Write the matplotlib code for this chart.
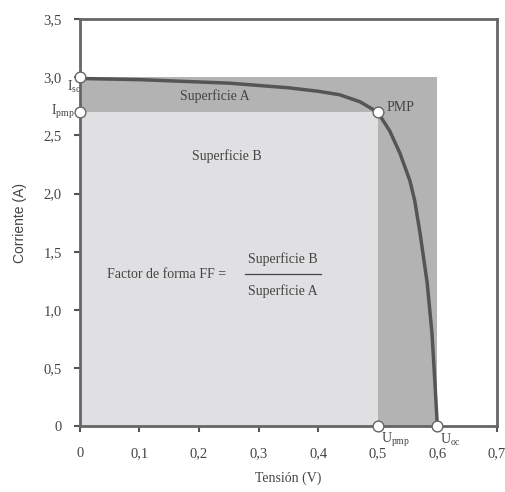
import matplotlib.pyplot as plt
from matplotlib.patches import Rectangle

# I-V curve of a solar cell
tension = [0, 0.1, 0.2, 0.25, 0.3, 0.35, 0.4, 0.436, 0.47, 0.5, 0.52,
           0.537, 0.554, 0.562, 0.571, 0.583, 0.591, 0.596, 0.6]
corriente = [2.99, 2.98, 2.96, 2.95, 2.93, 2.91, 2.88, 2.85, 2.79, 2.70, 2.54,
             2.35, 2.11, 1.94, 1.66, 1.23, 0.80, 0.37, 0.0]

Isc = 3.0
Uoc = 0.6
Ipmp = 2.7
Upmp = 0.5

xticks = [0, 0.1, 0.2, 0.3, 0.4, 0.5, 0.6, 0.7]
xtick_labels = ["0", "0,1", "0,2", "0,3", "0,4", "0,5", "0,6", "0,7"]
yticks = [0, 0.5, 1.0, 1.5, 2.0, 2.5, 3.0, 3.5]
ytick_labels = ["0", "0,5", "1,0", "1,5", "2,0", "2,5", "3,0", "3,5"]

plt.rcParams['font.family'] = 'Liberation Serif'
plt.rcParams['mathtext.fontset'] = 'custom'
plt.rcParams['mathtext.rm'] = 'Liberation Serif'
plt.rcParams['mathtext.it'] = 'Liberation Serif:italic'

txt = '#444444'
fig = plt.figure(figsize=(5.05, 4.92), dpi=100)
ax = fig.add_axes([0.158, 0.134, 0.826, 0.827])

# Superficie A (Isc x Uoc) and Superficie B (Ipmp x Upmp)
ax.add_patch(Rectangle((0, 0), Uoc, Isc, facecolor='#b3b3b3', edgecolor='none', zorder=1))
ax.add_patch(Rectangle((0, 0), Upmp, Ipmp, facecolor='#e0e0e2', edgecolor='none', zorder=2))

ax.plot(tension, corriente, color='#555555', lw=2.5, zorder=3,
        solid_joinstyle='round', solid_capstyle='butt')

px = [0, 0, Upmp, Upmp, Uoc]
py = [Isc, Ipmp, Ipmp, 0, 0]
ax.scatter(px, py, s=60, facecolor='white', edgecolor='#666666', linewidth=1.0,
           zorder=5, clip_on=False)

ax.set_xlim(0, 0.7)
ax.set_ylim(0, 3.5)
ax.set_xticks(xticks)
ax.set_xticklabels(xtick_labels)
ax.set_yticks(yticks)
ax.set_yticklabels(ytick_labels)
ax.tick_params(axis='x', direction='out', length=4, width=1.5, color='#555555',
               labelsize=10.5, labelcolor=txt, pad=11)
ax.tick_params(axis='y', direction='out', length=4, width=1.5, color='#555555',
               labelsize=10.5, labelcolor=txt, pad=9)
for s in ax.spines.values():
    s.set_color('#666666')
    s.set_linewidth(2)
    s.set_zorder(4)

ax.set_xlabel('Tensión (V)', fontsize=10, color=txt, labelpad=8)
ax.set_ylabel('Corriente (A)', fontsize=10, color=txt, family='Liberation Sans', labelpad=12)

ax.text(0.227, 2.84, 'Superficie A', fontsize=10, color=txt, ha='center', va='center', zorder=6)
ax.text(0.247, 2.32, 'Superficie B', fontsize=10, color=txt, ha='center', va='center', zorder=6)
ax.text(0.515, 2.74, 'PMP', fontsize=10, color=txt, ha='left', va='center', zorder=6)

ax.text(0.045, 1.305, 'Factor de forma FF =', fontsize=10, color=txt, ha='left', va='center', zorder=6)
ax.text(0.341, 1.44, 'Superficie B', fontsize=10, color=txt, ha='center', va='center', zorder=6)
ax.text(0.341, 1.16, 'Superficie A', fontsize=10, color=txt, ha='center', va='center', zorder=6)
ax.plot([0.278, 0.405], [1.305, 1.305], color=txt, lw=0.9, zorder=6)

ax.text(-0.022, 2.92, r'$\mathrm{I}_{\mathrm{sc}}$', fontsize=10, color=txt, ha='left', va='center')
ax.text(-0.048, 2.70, r'$\mathrm{I}_{\mathrm{pmp}}$', fontsize=10, color=txt, ha='left', va='center')
ax.text(0.505, -0.12, r'$\mathrm{U}_{\mathrm{pmp}}$', fontsize=10, color=txt, ha='left', va='center')
ax.text(0.605, -0.12, r'$\mathrm{U}_{\mathrm{oc}}$', fontsize=10, color=txt, ha='left', va='center')

fig.savefig('out.png', dpi=100)
